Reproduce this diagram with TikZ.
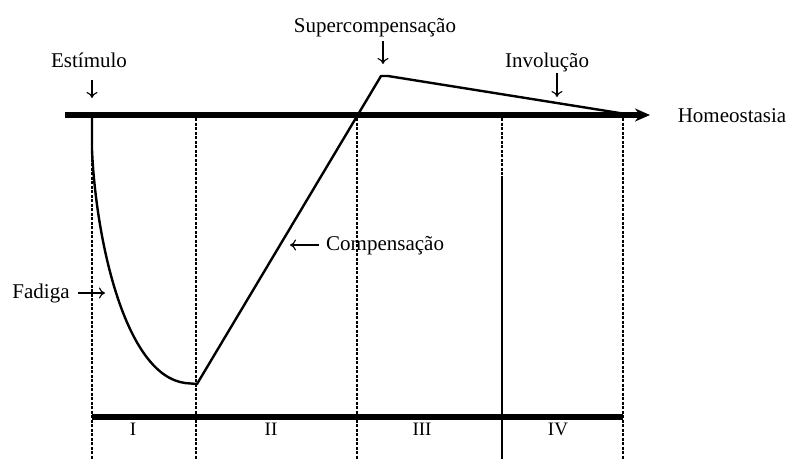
\documentclass[tikz,border=0pt]{standalone}
\usepackage{fontspec}
\setmainfont{Liberation Serif}
\usetikzlibrary{positioning,arrows.meta}

\begin{document}
\begin{tikzpicture}[
    x=1pt, y=-1pt,
    lbl/.style={font=\fontsize{21}{25}\selectfont, inner sep=1pt, anchor=base},
    num/.style={font=\fontsize{19}{22}\selectfont, inner sep=1pt, anchor=base},
    bar/.style={line width=6pt},
    guide/.style={line width=1.6pt, dash pattern=on 3pt off 1.5pt},
    wall/.style={line width=2.4pt},
    curve/.style={line width=2.4pt, line join=round},
    pointer/.style={-{To[length=6pt,width=11pt]}, line width=1.1pt}
]
\useasboundingbox (0,0) rectangle (792,459);
% phase limits
\foreach \x in {92,196,623}
    \draw[guide] (\x,118) -- (\x,459);
\draw[guide, line width=2.2pt] (357,118) -- (357,459);
\draw[guide] (502,118) -- (502,176);
\draw[wall] (502,176) -- (502,459);
% baseline and phase bar
\coordinate (home0) at (65,115);
\coordinate (home1) at (650,115);
\draw[bar, -{Stealth[length=15pt,width=13pt]}] (home0) -- (home1);
\coordinate (phase0) at (92,417);
\coordinate (phase1) at (623,417);
\draw[bar] (phase0) -- (phase1);
% response curve
\coordinate (low) at (197,384);
\coordinate (peak) at (381,76);
\draw[curve] (92,115) -- (92,150) .. controls (96,240) and (125,375) .. (185,383)
    -- (low) -- (peak) -- (388,76) -- (632,115);
% labels
\node[lbl] (estimulo) at (89,67) {Estímulo};
\node[lbl] (supercomp) at (375,32) {Supercompensação};
\node[lbl] (involucao) at (547,67) {Involução};
\node[lbl] (homeo) at (732,122) {Homeostasia};
\node[lbl] (fadiga) at (41,298) {Fadiga};
\node[lbl, anchor=base west] (comp) at (325,250) {Compensação};
% pointers
\coordinate (stim0) at (92,80);   \coordinate (stim1) at (92,98);
\coordinate (sup0) at (383,41);   \coordinate (sup1) at (383,64);
\coordinate (inv0) at (557,73);   \coordinate (inv1) at (557,97);
\coordinate (fad0) at (78,293);   \coordinate (fad1) at (105,293);
\coordinate (comp0) at (319,245); \coordinate (comp1) at (290,245);
\draw[pointer] (stim0) -- (stim1);
\draw[pointer] (sup0) -- (sup1);
\draw[pointer] (inv0) -- (inv1);
\draw[pointer] (fad0) -- (fad1);
\draw[pointer] (comp0) -- (comp1);
% phase numbers
\node[num] (ph1) at (133,435) {I};
\node[num] (ph2) at (271,435) {II};
\node[num] (ph3) at (422,435) {III};
\node[num] (ph4) at (558,435) {IV};
\end{tikzpicture}
\end{document}
